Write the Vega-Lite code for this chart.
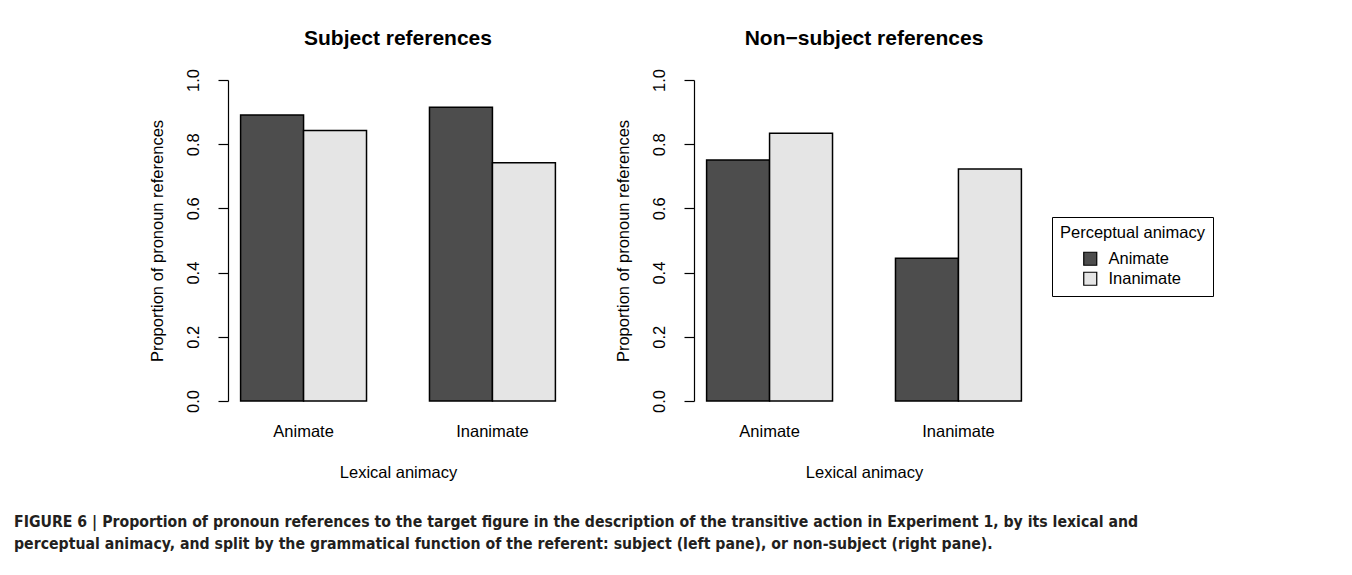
{
  "$schema": "https://vega.github.io/schema/vega-lite/v6.json",
  "padding": {"left": 14, "top": 27, "right": 5, "bottom": 5},
  "background": "white",
  "config": {
    "font": "Liberation Sans",
    "view": {"stroke": null},
    "axisY": {
      "format": ".1f",
      "labelAngle": -90,
      "labelAlign": "center",
      "labelBaseline": "bottom",
      "labelPadding": 17,
      "labelFontSize": 16.5,
      "labelColor": "black",
      "labelOverlap": false,
      "labelFlush": false,
      "tickSize": 10,
      "tickColor": "black",
      "tickWidth": 1.2,
      "domainColor": "black",
      "domainWidth": 1.2,
      "grid": false,
      "titleFontSize": 16.5,
      "titleFontWeight": "normal",
      "titleColor": "black",
      "titlePadding": 20
    },
    "axisX": {
      "labelAngle": 0,
      "ticks": false,
      "domain": false,
      "labelPadding": 22,
      "labelFontSize": 16.5,
      "labelColor": "black",
      "titleFontSize": 16.5,
      "titleFontWeight": "normal",
      "titleColor": "black",
      "titlePadding": 25
    }
  },
  "title": {
    "text": [
      "FIGURE 6 | Proportion of pronoun references to the target figure in the description of the transitive action in Experiment 1, by its lexical and",
      "perceptual animacy, and split by the grammatical function of the referent: subject (left pane), or non-subject (right pane)."
    ],
    "orient": "bottom",
    "anchor": "start",
    "frame": "bounds",
    "font": "DejaVu Sans Condensed, Liberation Sans",
    "fontWeight": "bold",
    "fontSize": 15.7,
    "lineHeight": 22,
    "dx": -135,
    "offset": 34,
    "color": "#231f20"
  },
  "data": {
    "values": [
      {"panel": "Subject", "lexical": "Animate", "perceptual": "Animate", "value": 0.891},
      {"panel": "Subject", "lexical": "Animate", "perceptual": "Inanimate", "value": 0.843},
      {"panel": "Subject", "lexical": "Inanimate", "perceptual": "Animate", "value": 0.915},
      {"panel": "Subject", "lexical": "Inanimate", "perceptual": "Inanimate", "value": 0.742},
      {"panel": "Non-subject", "lexical": "Animate", "perceptual": "Animate", "value": 0.751},
      {"panel": "Non-subject", "lexical": "Animate", "perceptual": "Inanimate", "value": 0.834},
      {"panel": "Non-subject", "lexical": "Inanimate", "perceptual": "Animate", "value": 0.445},
      {"panel": "Non-subject", "lexical": "Inanimate", "perceptual": "Inanimate", "value": 0.723}
    ]
  },
  "bounds": "flush",
  "spacing": 126,
  "resolve": {"legend": {"color": "independent"}},
  "hconcat": [
    {
      "title": {"text": "Subject references", "fontSize": 21, "fontWeight": "bold", "color": "black", "frame": "group", "offset": 20},
      "width": 340,
      "height": 321,
      "transform": [{"filter": "datum.panel == 'Subject'"}],
      "mark": {"type": "bar", "stroke": "black", "strokeWidth": 1.5},
      "encoding": {
        "x": {"field": "lexical", "type": "nominal", "sort": ["Animate", "Inanimate"], "scale": {"paddingInner": 0.3333, "paddingOuter": 0.0667}, "axis": {"title": "Lexical animacy"}},
        "xOffset": {"field": "perceptual", "type": "nominal", "sort": ["Animate", "Inanimate"], "scale": {"paddingInner": 0, "paddingOuter": 0}},
        "y": {"field": "value", "type": "quantitative", "scale": {"domain": [0, 1], "nice": false}, "axis": {"title": "Proportion of pronoun references", "values": [0, 0.2, 0.4, 0.6, 0.8, 1]}},
        "color": {"field": "perceptual", "type": "nominal", "scale": {"domain": ["Animate", "Inanimate"], "range": ["#4d4d4d", "#e5e5e5"]}, "legend": null}
      }
    },
    {
      "title": {"text": "Non\u2212subject references", "fontSize": 21, "fontWeight": "bold", "color": "black", "frame": "group", "offset": 20},
      "width": 340,
      "height": 321,
      "transform": [{"filter": "datum.panel == 'Non-subject'"}],
      "mark": {"type": "bar", "stroke": "black", "strokeWidth": 1.5},
      "encoding": {
        "x": {"field": "lexical", "type": "nominal", "sort": ["Animate", "Inanimate"], "scale": {"paddingInner": 0.3333, "paddingOuter": 0.0667}, "axis": {"title": "Lexical animacy"}},
        "xOffset": {"field": "perceptual", "type": "nominal", "sort": ["Animate", "Inanimate"], "scale": {"paddingInner": 0, "paddingOuter": 0}},
        "y": {"field": "value", "type": "quantitative", "scale": {"domain": [0, 1], "nice": false}, "axis": {"title": "Proportion of pronoun references", "values": [0, 0.2, 0.4, 0.6, 0.8, 1]}},
        "color": {
          "field": "perceptual",
          "type": "nominal",
          "scale": {"domain": ["Animate", "Inanimate"], "range": ["#4d4d4d", "#e5e5e5"]},
          "legend": {
            "orient": "none",
            "legendX": 358,
            "legendY": 137,
            "title": "Perceptual animacy",
            "titleFontSize": 16.5,
            "titleFontWeight": "normal",
            "titleColor": "black",
            "titleFont": "Liberation Sans",
            "labelFontSize": 16.5,
            "labelColor": "black",
            "labelFont": "Liberation Sans",
            "symbolType": "square",
            "symbolSize": 169,
            "symbolStrokeColor": "black",
            "symbolStrokeWidth": 1.2,
            "strokeColor": "black",
            "padding": 8,
            "symbolOffset": 22,
            "rowPadding": 1,
            "titlePadding": 9,
            "labelOffset": 10
          }
        }
      }
    }
  ]
}
